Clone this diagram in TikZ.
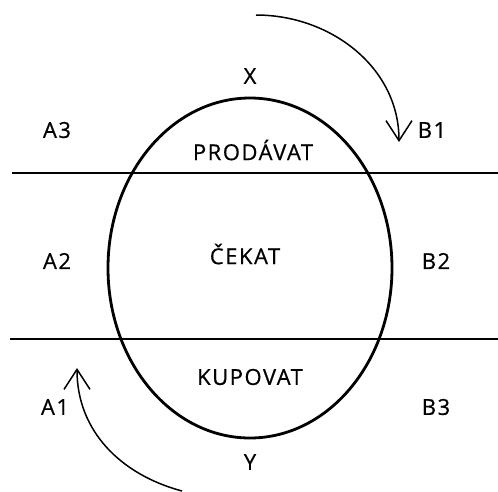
\documentclass[tikz,border=0pt]{standalone}
\usepackage{fontspec}
\setmainfont{Open Sans}[LetterSpace=7,FakeBold=0.6]
\usetikzlibrary{arrows.meta,shapes.geometric}

\begin{document}
\begin{tikzpicture}[x=1pt,y=-1pt,
  lbl/.style={font=\fontsize{22}{26}\selectfont,inner sep=0pt},
  flow/.style={line width=1.5pt,-{Straight Barb[length=20pt,width=26pt,line width=1.5pt]}}]
\useasboundingbox (0,0) rectangle (498,491);
% zone boundaries
\draw[line width=2.4pt] (12,173)--(498,173);
\draw[line width=2.4pt] (10,339)--(498,339);
\node[draw,ellipse,line width=2.8pt,inner sep=0pt,minimum width=284pt,minimum height=340pt] (oval) at (250,268) {};
% labels
\node[lbl] (x) at (250,76) {X};
\node[lbl] (y) at (250,462) {Y};
\node[lbl] (sell) at (253,150) {PRODÁVAT};
\node[lbl] (wait) at (245,254) {ČEKAT};
\node[lbl] (buy) at (250,377) {KUPOVAT};
\node[lbl] (a3) at (57,130) {A3};
\node[lbl] (a2) at (57,261) {A2};
\node[lbl] (a1) at (55,407) {A1};
\node[lbl] (b1) at (432,130) {B1};
\node[lbl] (b2) at (436,261) {B2};
\node[lbl] (b3) at (436,407) {B3};
% moves
\coordinate (topstart) at (256,15);
\coordinate (topend) at (399,142);
\coordinate (botstart) at (182,491);
\coordinate (botend) at (77,368);
\draw[flow] (topstart) to[out=0,in=90] (topend);
\draw[flow] (botstart) to[out=165,in=-90] (botend);
\end{tikzpicture}
\end{document}
